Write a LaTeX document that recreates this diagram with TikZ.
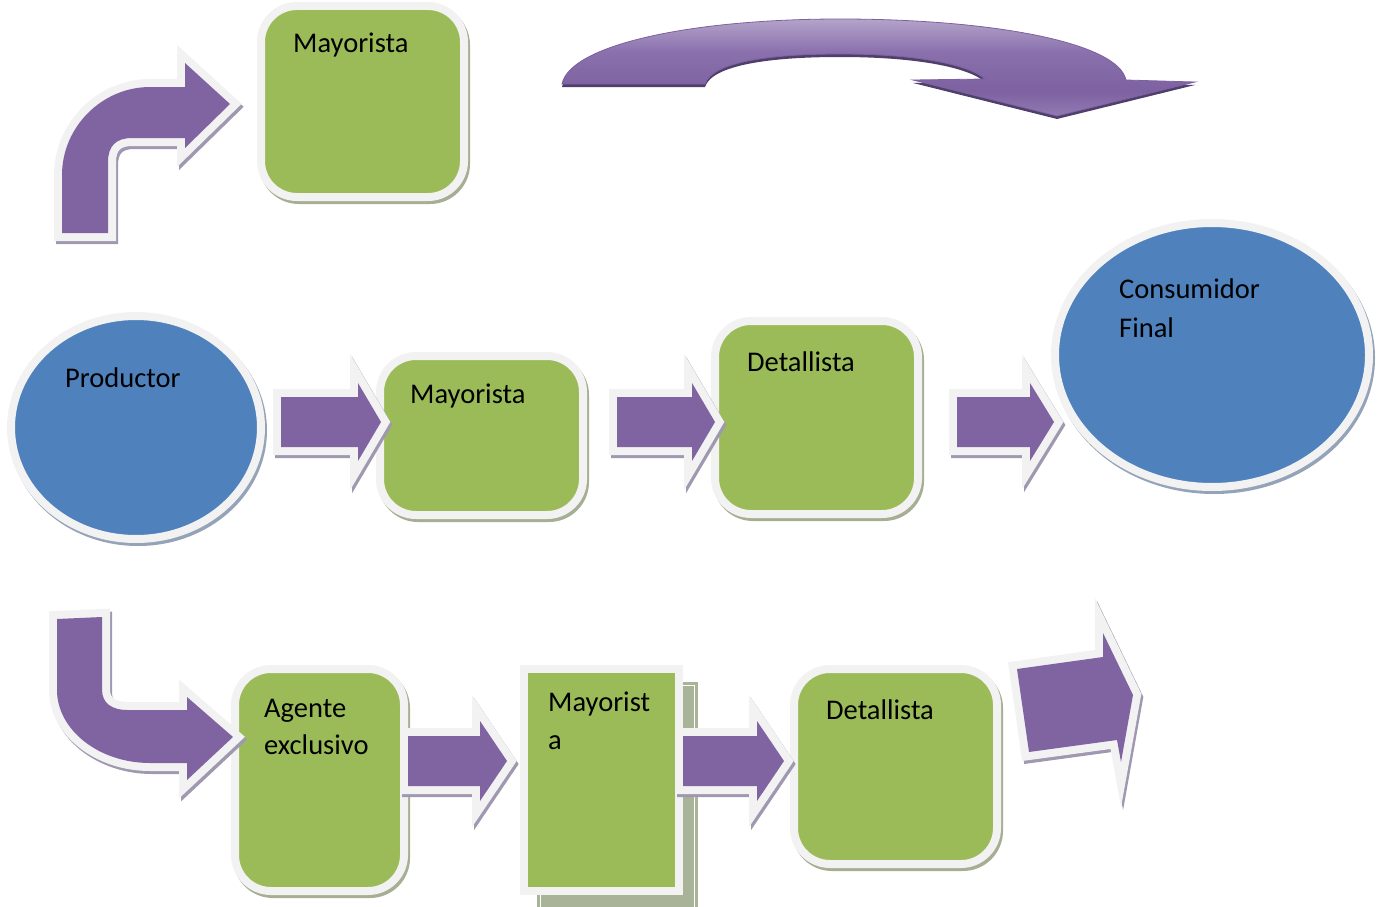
\documentclass[tikz,border=0pt]{standalone}
\usepackage{fontspec}
\setmainfont{Carlito}
\usetikzlibrary{shapes.geometric}
\definecolor{grn}{HTML}{9BBB59}
\definecolor{blu}{HTML}{4F81BD}
\definecolor{pur}{HTML}{8064A2}
\definecolor{rimc}{HTML}{F2F2F2}
\definecolor{shp}{HTML}{A098B0}
\definecolor{shg}{HTML}{A6AF93}
\definecolor{shb}{HTML}{95A3B8}
\definecolor{cvtop}{HTML}{B3A3C9}
\definecolor{cvmid}{HTML}{7D61A0}
\definecolor{cvmidb}{HTML}{8A70AD}
\definecolor{cvbot}{HTML}{927AB3}
\definecolor{cvsh}{HTML}{4F3F6B}
\definecolor{ghost}{HTML}{A8B398}
\pgfdeclareverticalshading{cvshade}{100bp}{color(0bp)=(cvbot); color(25bp)=(cvbot); color(38bp)=(cvmid); color(58bp)=(cvmidb); color(75bp)=(cvtop); color(100bp)=(cvtop)}
\tikzset{
  box/.style={draw=rimc, line width=8pt, fill=grn, rounded corners=36pt, inner sep=0pt,
    preaction={draw=shg, fill=shg, line width=8pt, transform canvas={xshift=2pt, yshift=-3pt}}},
  sqbox/.style={draw=rimc, line width=8pt, fill=grn, inner sep=0pt},
  ellip/.style={ellipse, draw=rimc, line width=8pt, fill=blu, inner sep=0pt,
    preaction={draw=shb, fill=shb, line width=8pt, transform canvas={xshift=2pt, yshift=-3pt}}},
  arr/.style={fill=pur,
    preaction={draw=shp, fill=shp, line width=16pt, line join=miter, transform canvas={xshift=2pt, yshift=-3pt}},
    preaction={draw=rimc, line width=16pt, line join=miter}},
  lbl/.style={font=\fontsize{28.5}{38}\selectfont, inner sep=0pt, anchor=base west, text=black},
}
\newcommand\harrow[6]{%
  \fill[arr] (#1,#4-#5) -- (#2,#4-#5) -- (#2,#4-#6) -- (#3,#4) -- (#2,#4+#6) -- (#2,#4+#5) -- (#1,#4+#5) -- cycle;}
\begin{document}
\begin{tikzpicture}[x=1pt, y=-1pt]
\useasboundingbox (0,0) rectangle (1384,907);
% boxes and ellipses
\node[box, minimum width=203pt, minimum height=191pt] (may1) at (362.5,101.5) {};
\node[box, minimum width=203pt, minimum height=159pt] (may2) at (481.5,435.5) {};
\node[box, minimum width=203pt, minimum height=193pt] (det1) at (816.5,417.5) {};
\node[ellip, minimum width=250pt, minimum height=223pt] (prod) at (136,427.5) {};
\node[ellip, minimum width=314pt, minimum height=264pt] (cons) at (1212,355) {};
\node[box, minimum width=169pt, minimum height=222pt] (agen) at (319.5,780) {};
\fill[ghost] (537,682) rectangle (698,912);
\draw[white, line width=1pt] (540.5,912) -- (540.5,685.5) -- (694.5,685.5) -- (694.5,912);
\node[sqbox, minimum width=155pt, minimum height=222pt] (may3) at (601.5,780) {};
\node[box, minimum width=203pt, minimum height=195pt] (det2) at (895.5,766.5) {};
% labels
\node[lbl] (tmay1) at (293,53) {Mayorista};
\node[lbl] (tprod) at (65,387) {Productor};
\node[lbl] (tmay2) at (410,403) {Mayorista};
\node[lbl] (tdet1) at (747,371) {Detallista};
\node[lbl] (tcons1) at (1119,298) {Consumidor};
\node[lbl] (tcons2) at (1119,337) {Final};
\node[lbl] (tagen1) at (264,717) {Agente};
\node[lbl] (tagen2) at (264,754) {exclusivo};
\node[lbl] (tmay3a) at (548,711) {Mayorist};
\node[lbl] (tmay3b) at (548,749) {a};
\node[lbl] (tdet2) at (826,719) {Detallista};
% straight block arrows
\harrow{281}{358}{381}{422}{25}{39}
\harrow{617}{692}{715}{422}{25}{39}
\harrow{957}{1030}{1054}{422}{25}{39}
\harrow{408}{480}{507}{761}{25}{40}
\harrow{683}{757}{784}{761}{25}{40}
% tilted arrow
\fill[arr] (1017,669) -- (1103,657) -- (1103,633) -- (1133,695) -- (1121,762) -- (1117,740) -- (1029,752) -- cycle;
% bent arrow top
\fill[arr] (62,233) -- (62,175) .. controls (62,127) and (102,87) .. (150,87) -- (185,87) -- (185,63) -- (230,104)
  -- (185,148) -- (185,138) -- (132,138) .. controls (116,138) and (108,146) .. (108,162) -- (108,233) -- cycle;
% bent arrow bottom
\fill[arr] (57,619) -- (102,617) -- (102,690) .. controls (102,703) and (112,710) .. (127,710) -- (187,710) -- (187,697)
  -- (233,737) -- (187,780) -- (187,763) -- (150,763) .. controls (99,763) and (57,730) .. (57,690) -- cycle;
% curved arrow
\shade[shading=cvshade, draw=cvmid, line width=0.8pt,
  preaction={fill=cvsh, transform canvas={yshift=-3pt}}]
  (562,84) -- (705,84) .. controls (712,62) and (770,54) .. (840,54) .. controls (915,54) and (968,64) .. (985,79)
  -- (913,80) -- (1057,116) -- (1195,82) -- (1126,80)
  .. controls (1118,42) and (990,19) .. (840,19) .. controls (690,19) and (570,45) .. (562,84) -- cycle;
\end{tikzpicture}
\end{document}
